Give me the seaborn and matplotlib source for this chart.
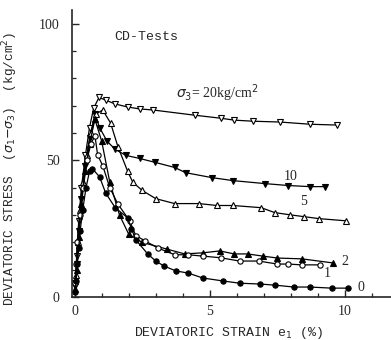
import matplotlib
matplotlib.use("Agg")
import matplotlib.pyplot as plt
import seaborn as sns
import pandas as pd
from matplotlib.ticker import MultipleLocator

# ---- data ----
x20 = [0.02, 0.08, 0.15, 0.25, 0.4, 0.55, 0.7, 0.9, 1.15, 1.5, 1.96, 2.4, 2.9, 4.44, 5.4, 5.9, 6.6, 7.6, 8.7, 9.7]
y20 = [5, 15, 28, 40, 52, 62, 69, 73, 72, 70.6, 69.5, 68.8, 68.4, 66.5, 65.4, 64.7, 64.3, 64, 63.2, 62.9]

x10 = [0.03, 0.08, 0.15, 0.25, 0.4, 0.55, 0.75, 0.92, 1.2, 1.5, 1.9, 2.4, 2.96, 3.7, 4.1, 5.07, 5.85, 7.04, 7.9, 8.7, 9.26]
y10 = [4, 12, 24, 36, 48, 58, 67, 62, 57, 54, 51.8, 50.7, 49.3, 47.4, 45.5, 43.7, 42.6, 41.5, 40.8, 40.4, 40.4]

x5 = [0.05, 0.12, 0.2, 0.3, 0.45, 0.6, 0.8, 1.04, 1.33, 1.6, 1.96, 2.15, 2.5, 3.0, 3.7, 4.6, 5.26, 5.85, 6.9, 7.4, 7.96, 8.5, 9.04, 10.04]
y5 = [8, 20, 32, 42, 52, 60, 67, 68.4, 63.6, 55, 46, 42, 39, 36, 34.2, 34.2, 33.5, 33.5, 32.7, 30.9, 30.1, 29.4, 28.7, 27.9]

x2 = [0.03, 0.08, 0.15, 0.25, 0.4, 0.55, 0.75, 1.0, 1.3, 1.66, 2.0, 2.5, 3.4, 4.07, 4.74, 5.37, 5.9, 6.4, 6.96, 7.5, 8.4, 9.56]
y2 = [3, 10, 22, 34, 46, 56, 65, 57, 42, 30, 23, 20, 17.6, 15.8, 16.2, 16.9, 15.8, 15.8, 15, 14.3, 14, 12.5]

x1 = [0.02, 0.06, 0.1, 0.18, 0.3, 0.45, 0.6, 0.75, 0.85, 1.04, 1.3, 1.6, 2.03, 2.26, 2.6, 3.07, 3.7, 4.2, 4.74, 5.4, 6.1, 6.8, 7.5, 7.9, 8.4, 9.07]
y1 = [5, 12, 20, 30, 40, 50, 56, 59, 52, 48, 40, 34, 28, 22.5, 20.6, 18, 15.5, 15.5, 15, 14.4, 13.2, 13.2, 12.1, 12.1, 11.8, 11.8]

x0 = [0.02, 0.05, 0.1, 0.15, 0.2, 0.3, 0.42, 0.55, 0.65, 0.92, 1.15, 1.5, 1.96, 2.1, 2.26, 2.7, 3.0, 3.3, 3.74, 4.2, 4.74, 5.5, 6.1, 6.85, 7.4, 8.1, 8.7, 9.5, 10.1]
y0 = [2, 6, 12, 18, 24, 32, 40, 46, 47, 44, 38, 32.7, 29, 25, 21, 15.8, 13.2, 11.4, 9.6, 8.8, 7, 5.9, 5.1, 4.8, 4.4, 3.7, 3.7, 3.3, 3.3]

series_names = ["20", "10", "5", "2", "1", "0"]
series_x = [x20, x10, x5, x2, x1, x0]
series_y = [y20, y10, y5, y2, y1, y0]
label_texts = ["10", "5", "2", "1", "0"]
label_x = [8.0, 8.45, 10.0, 9.33, 10.6]
label_y = [44.1, 35.0, 13.2, 8.5, 3.7]

x_ticks = [0, 5, 10]
y_ticks = [0, 50, 100]

# ---- figure ----
sns.set_style("ticks")
plt.rcParams["font.family"] = ["DejaVu Sans"]

frames = []
for name, xs, ys in zip(series_names, series_x, series_y):
    frames.append(pd.DataFrame({"strain": xs, "stress": ys, "s3": name}))
df = pd.concat(frames, ignore_index=True)

fig = plt.figure(figsize=(3.91, 3.40), dpi=100)
ax = fig.add_axes([0.184, 0.126, 0.816, 0.845])

styles = {
    "20": dict(marker="v", mfc="white"),
    "10": dict(marker="v", mfc="black"),
    "5": dict(marker="^", mfc="white"),
    "2": dict(marker="^", mfc="black"),
    "1": dict(marker="o", mfc="white"),
    "0": dict(marker="o", mfc="black"),
}
for name in series_names:
    sub = df[df["s3"] == name]
    st = styles[name]
    sns.lineplot(data=sub, x="strain", y="stress", ax=ax, color="black",
                 lw=0.9, marker=st["marker"], markersize=3.8,
                 markerfacecolor=st["mfc"], markeredgecolor="black",
                 markeredgewidth=0.8, sort=False, estimator=None, legend=False)

ax.set_xlim(-0.1, 11.7)
ax.set_ylim(0, 105)
sns.despine(ax=ax)
ax.spines["left"].set_linewidth(1.2)
ax.spines["bottom"].set_linewidth(1.2)

ax.set_xticks(x_ticks)
ax.set_yticks(y_ticks)
ax.xaxis.set_minor_locator(MultipleLocator(1))
ax.yaxis.set_minor_locator(MultipleLocator(10))
ax.tick_params(which="major", direction="in", length=5, width=1.0,
               labelsize=10)
ax.tick_params(axis="x", which="major", pad=6)
ax.tick_params(axis="y", which="major", pad=9)
ax.tick_params(which="minor", direction="in", length=3, width=0.9)
for lab in ax.get_xticklabels() + ax.get_yticklabels():
    lab.set_family("Liberation Serif")

ax.set_xlabel(r"DEVIATORIC STRAIN e$_1$ (%)", family="Liberation Mono",
              fontsize=9.5)
ax.xaxis.set_label_coords(0.49, -0.098)
ax.set_ylabel(r"DEVIATORIC STRESS  ($\sigma_1$$-$$\sigma_3$)  (kg/cm$^2$)",
              family="Liberation Mono", fontsize=9.2)
ax.yaxis.set_label_coords(-0.163, 0.446)

ax.text(2.63, 95.2, "CD-Tests", family="Liberation Mono", fontsize=9.5,
        ha="center", va="center")
ax.text(3.75, 74.5, r"$\sigma_3$= 20kg/cm$^2$", family="Liberation Serif",
        fontsize=10, ha="left", va="center")
for t, lx, ly in zip(label_texts, label_x, label_y):
    ax.text(lx, ly, t, family="Liberation Serif", fontsize=10,
            ha="center", va="center")

fig.savefig("out.png", dpi=100)
